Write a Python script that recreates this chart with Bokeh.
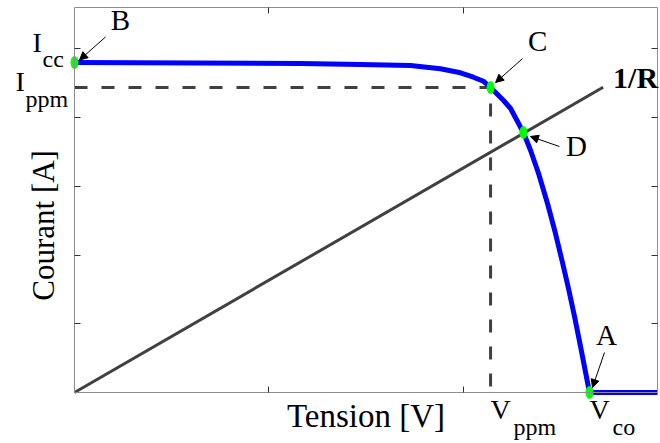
from bokeh.plotting import figure
from bokeh.models import Label, Arrow, NormalHead, Range1d, FixedTicker, LinearAxis
from bokeh.embed import file_html
from bokeh.resources import INLINE
import math

# ---- data ----
curve_v = [0.0, 1.163, 1.472, 1.729, 1.883, 1.986, 2.053, 2.104, 2.141, 2.208, 2.244,
           2.310, 2.347, 2.388, 2.434, 2.475, 2.511, 2.542, 2.573, 2.604, 2.650, 3.0]
curve_i = [4.80, 4.785, 4.771, 4.756, 4.708, 4.650, 4.586, 4.528, 4.436, 4.247, 4.131,
           3.782, 3.520, 3.185, 2.749, 2.313, 1.891, 1.513, 1.105, 0.669, 0.0, 0.0]
load_v = [0.0, 2.72]
load_i = [0.0, 4.44]
pts_name = ["B", "C", "D", "A"]
pts_v = [0.0, 2.141, 2.310, 2.650]
pts_i = [4.80, 4.436, 3.782, 0.0]
x_ticks = [1, 2]
y_ticks = [1, 2, 3, 4, 5]
v_ppm, i_ppm = 2.141, 4.436
v_co, i_cc = 2.650, 4.80
x_label = "Tension [V]"
y_label = "Courant [A]"

X_MAX, Y_MAX = 3.0, 5.6
FW, FH = 583, 385                 # size of the axes box in pixels
M_L, M_R, M_T, M_B = 74, 3, 7, 51  # room around the axes box
PXX, PXY = FW / X_MAX, FH / Y_MAX
BASE = 11                          # baseline correction for labels (px)

SERIF = "Liberation Serif"

p = figure(width=M_L + FW + M_R, height=M_T + FH + M_B,
           x_range=Range1d(-M_L / PXX, X_MAX + M_R / PXX),
           y_range=Range1d(-M_B / PXY, Y_MAX + M_T / PXY),
           output_backend="svg", toolbar_location=None,
           x_axis_location=None, y_axis_location=None)
p.min_border = 0
p.grid.visible = False
p.outline_line_color = None
p.background_fill_color = "white"
p.border_fill_color = "white"

def make_axis(loc, bounds, ticks):
    ax = LinearAxis(fixed_location=loc, bounds=bounds, ticker=FixedTicker(ticks=ticks))
    ax.major_tick_in = 6
    ax.major_tick_out = 0
    ax.minor_tick_in = 0
    ax.minor_tick_out = 0
    ax.major_label_text_color = None
    ax.major_label_standoff = 0
    ax.axis_line_color = "#8c8c8c"
    ax.axis_line_width = 1
    ax.major_tick_line_color = "#333333"
    return ax

p.add_layout(make_axis(0, (0, X_MAX), x_ticks), "below")
p.add_layout(make_axis(Y_MAX, (0, X_MAX), x_ticks), "above")
p.add_layout(make_axis(0, (0, Y_MAX), y_ticks), "left")
p.add_layout(make_axis(X_MAX, (0, Y_MAX), y_ticks), "right")

# load line 1/R
p.line(load_v, load_i, line_color="#404040", line_width=3)
# dashed MPP lines
p.line([0, v_ppm, v_ppm], [i_ppm, i_ppm, 0], line_color="#404040", line_width=3,
       line_dash="13 14")
# I-V curve
p.line(curve_v, curve_i, line_color="#0000ff", line_width=5, line_join="round")
# points
p.ellipse(pts_v, pts_i, width=7, height=12, width_units="screen", height_units="screen",
          fill_color="#00ff00", line_color="#00ff00")

def label(x, y, text, dx, dy, size, align="left", style="normal", angle=0.0):
    p.add_layout(Label(x=x, y=y, x_offset=dx, y_offset=dy, text=text, text_font=SERIF,
                       text_font_size=size, text_font_style=style, text_color="black",
                       text_align=align, text_baseline="alphabetic", angle=angle))

# point letters and arrows (offsets in pixels: dx right, dy down)
letter_off = {"B": (46, -32), "C": (47, -36), "D": (53, 25), "A": (17, -47)}
arrow_tip = {"B": (5, -2.5), "C": (5, -5), "D": (7, 4), "A": (3, -5)}
arrow_tail = {"B": (31, -25.5), "C": (32, -29), "D": (36, 14), "A": (15, -40)}
for name, v, i in zip(pts_name, pts_v, pts_i):
    dx, dy = letter_off[name]
    label(v, i, name, dx, -dy + BASE, "29px", align="center")
    tx, ty = arrow_tip[name]
    sx, sy = arrow_tail[name]
    p.add_layout(Arrow(x_start=v + sx / PXX, y_start=i - sy / PXY,
                       x_end=v + tx / PXX, y_end=i - ty / PXY,
                       line_color="black", line_width=1,
                       end=NormalHead(size=8, fill_color="black", line_color="black", line_width=1)))

# 1/R label
label(load_v[1], load_i[1], "1/R", 10, -1 + BASE, "30px", style="bold")

# axis value labels with subscripts (offsets: positive y = up)
def sublabel(x, y, main, sub, mx, my, sxo, syo):
    label(x, y, main, mx, my + BASE, "28px")
    label(x, y, sub, sxo, syo + BASE, "24px")

sublabel(0, i_cc, "I", "cc", -42, 9.5, -32, -7.5)
sublabel(0, i_ppm, "I", "ppm", -59, -5, -49, -22)
sublabel(v_ppm, 0, "V", "ppm", 0, -28, 23, -45)
sublabel(v_co, 0, "V", "co", 0, -28, 23, -45)

# axis titles
label(X_MAX / 2, 0, x_label, 0, -34 + BASE, "33px", align="center")
label(0, Y_MAX * 0.46, y_label, -31, -10, "31px", align="center", angle=math.pi / 2)

open("out.html", "w").write(file_html(p, INLINE))
